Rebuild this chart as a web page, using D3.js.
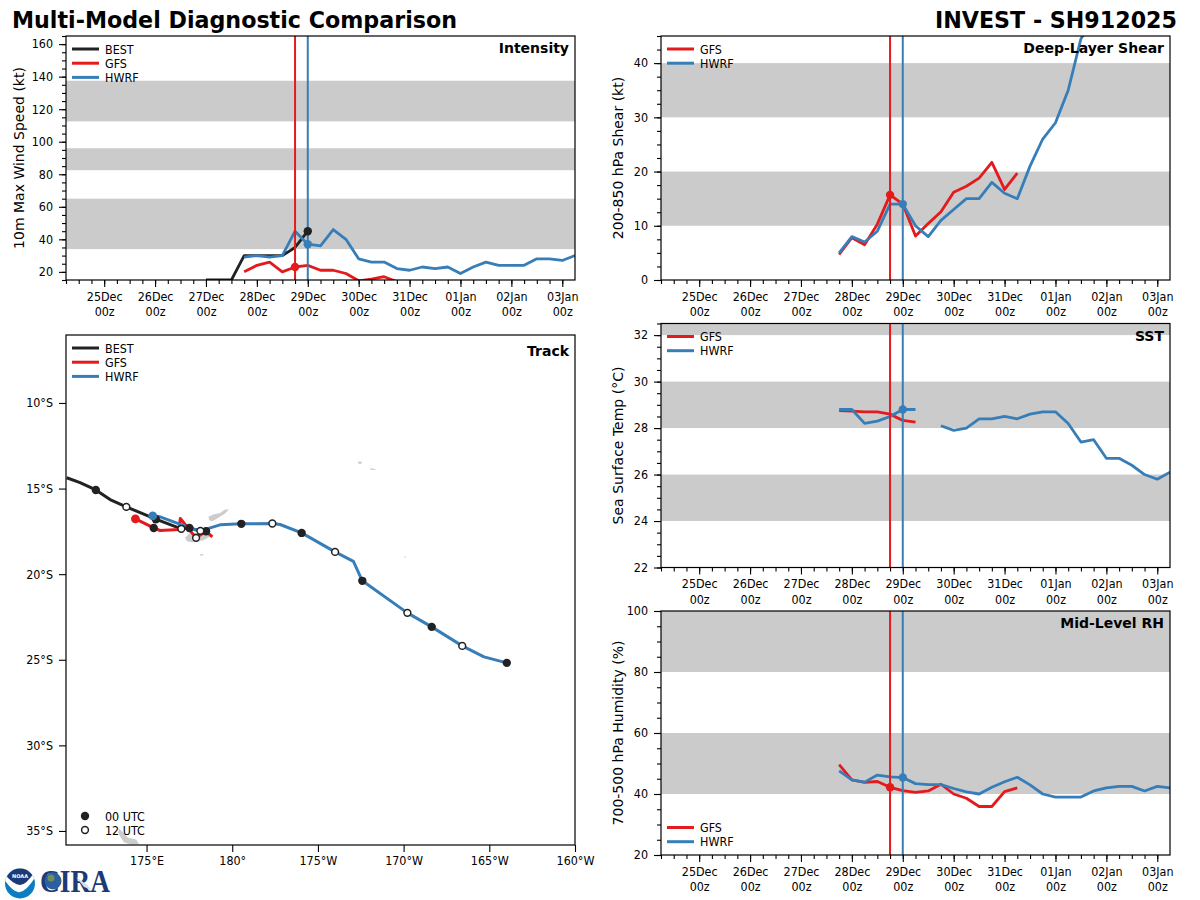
<!DOCTYPE html>
<html lang="en">
<head>
  <meta charset="UTF-8">
  <title>Multi-Model Diagnostic Comparison</title>
  <script src="https://d3js.org/d3.v7.min.js"></script>
  <style>
    html, body { margin: 0; padding: 0; background: #fff; }
    text { font-family: "DejaVu Sans", sans-serif; fill: #000; }
  </style>
</head>
<body>
  <div id="my_dataviz"></div>
  <script>
    // Every model series is one value per 6 hours from its first time
    var modelStart = new Date(Date.UTC(2025, 11, 27, 18));
    var bestStart = new Date(Date.UTC(2025, 11, 27, 0));

    var bestWind = [15, 15, 15, 30, 30, 30, 30, 35, 45];
    var gfsWind = [20, 24, 26, 20, 23, 24, 21, 21, 19, 14.5, 15.5, 17, 14];
    var hwrfWind = [29, 30, 29, 30, 45, 37, 36, 46, 40, 28, 26, 26, 22, 21, 23, 22, 23, 19, 23, 26, 24, 24, 24, 28, 28, 27, 30];

    var gfsShear = [4.7, 7.8, 6.5, 10.3, 15.7, 14, 8.1, 10.4, 12.6, 16.2, 17.3, 18.8, 21.7, 16.7, 19.7];
    var hwrfShear = [5, 8, 7, 9, 14, 14, 10, 8, 11, 13, 15, 15, 18, 16, 15, 21, 26, 29, 35, 44.5, 48];

    var gfsSst = [28.75, 28.73, 28.7, 28.7, 28.6, 28.33, 28.26];
    var hwrfSst = [28.8, 28.8, 28.2, 28.3, 28.5, 28.8, 28.8, null, 28.1, 27.9, 28.0, 28.4, 28.4, 28.5, 28.4, 28.6, 28.7, 28.7, 28.2, 27.4, 27.5, 26.7, 26.7, 26.4, 26.0, 25.8, 26.1];

    var gfsRh = [49.6, 44.6, 43.8, 44.1, 42.2, 41.1, 40.5, 41, 43.2, 40, 38.6, 35.9, 35.9, 40.8, 42];
    var hwrfRh = [47.6, 44.6, 43.9, 46.2, 45.6, 45.4, 43.4, 43.1, 43.1, 41.8, 40.7, 40, 42.2, 44, 45.5, 43, 40, 39, 39, 39, 41, 42, 42.5, 42.5, 41, 42.5, 42];

    // Track positions, degrees east (180 and beyond is the western hemisphere)
    var bestLon = [170.34, 171.12, 172.04, 172.87, 173.82, 175.54, 177.03, 177.5, 178.14, 178.47];
    var bestLat = [-14.37, -14.65, -15.08, -15.64, -16.07, -16.79, -17.35, -17.3, -17.47, -17.49];
    var bestSyn = ["", "", "00", "", "12", "00", "12", "00", "", "00"];

    var gfsLon = [174.35, 175.42, 175.79, 176.9, 176.97, 177.89, 178.47, 178.84];
    var gfsLat = [-16.77, -17.3, -17.45, -17.39, -16.75, -17.88, -17.49, -17.82];
    var gfsSyn = ["", "00", "", "", "", "12", "", ""];

    var hwrfLon = [175.36, 175.79, 177.93, 178.14, 179.29, 180.53, 182.34, 182.79, 184.05, 186.0, 187.07, 187.59, 190.22, 191.64, 193.42, 194.69, 196.02];
    var hwrfLat = [-16.59, -16.65, -17.44, -17.47, -17.12, -17.06, -17.04, -17.1, -17.59, -18.7, -19.25, -20.39, -22.26, -23.08, -24.19, -24.83, -25.18];
    var hwrfSyn = ["", "", "", "12", "", "00", "12", "", "00", "12", "", "00", "12", "00", "12", "", "00"];

    // Land outlines in the track window, [lon, lat]
    var vanuaLevu = [[178.61, -16.65], [178.9, -16.52], [179.29, -16.42], [179.58, -16.23], [179.81, -16.23], [179.58, -16.46], [179.19, -16.71], [178.84, -16.91], [178.66, -16.85]];
    var vitiLevu = [[177.25, -17.88], [177.54, -17.59], [178.02, -17.59], [178.61, -17.59], [178.7, -17.82], [178.31, -18.02], [178.02, -18.08], [177.64, -18.14], [177.35, -18.08]];
    var kadavu = [[178.1, -18.85], [178.3, -18.82], [178.32, -18.9], [178.12, -18.92]];
    var northland = [[173.4, -34.86], [173.63, -35.09], [173.92, -35.39], [174.39, -35.5], [174.55, -35.74], [174.1, -35.79], [173.69, -35.68], [173.51, -35.39], [173.33, -35.09]];
    var savaii = [[187.35, -13.42], [187.55, -13.42], [187.55, -13.55], [187.35, -13.55]];
    var upolu = [[188.05, -13.82], [188.35, -13.85], [188.35, -13.92], [188.05, -13.9]];
    var niue = [[190.05, -18.95], [190.12, -18.95], [190.12, -19.02], [190.05, -19.02]];

    var windBands = [[34, 65], [82.5, 96], [112.5, 137.5]];
    var shearBands = [[10, 20], [30, 40]];
    var sstBands = [[24, 26], [28, 30], [32, 32.5]];
    var rhBands = [[40, 60], [80, 100]];

    var windTicks = [20, 40, 60, 80, 100, 120, 140, 160];
    var shearTicks = [0, 10, 20, 30, 40];
    var sstTicks = [22, 24, 26, 28, 30, 32];
    var rhTicks = [20, 40, 60, 80, 100];
    var lonTicks = [175, 180, 185, 190, 195, 200];
    var lonLabels = ["175°E", "180°", "175°W", "170°W", "165°W", "160°W"];
    var latTicks = [-10, -15, -20, -25, -30, -35];
    var latLabels = ["10°S", "15°S", "20°S", "25°S", "30°S", "35°S"];

    var gfsInit = new Date(Date.UTC(2025, 11, 28, 18));
    var hwrfInit = new Date(Date.UTC(2025, 11, 29, 0));

    var red = "#e41a1c", blue = "#377eb8", dark = "#222222", bandGrey = "#cbcbcb", landGrey = "#cccccc";
    var xStart = new Date(Date.UTC(2025, 11, 24, 6)), xEnd = new Date(Date.UTC(2026, 0, 3, 6));

    var svg = d3.select("#my_dataviz")
      .append("svg")
        .attr("width", 1200)
        .attr("height", 900)
        .style("display", "block");

    svg.append("text").attr("x", 12).attr("y", 28)
      .style("font-size", "22.2px").style("font-weight", "bold")
      .text("Multi-Model Diagnostic Comparison");
    svg.append("text").attr("x", 1177).attr("y", 28).attr("text-anchor", "end")
      .style("font-size", "22.2px").style("font-weight", "bold")
      .text("INVEST - SH912025");

    function seriesData(start, values) {
      return values.map(function(v, i) { return {t: d3.utcHour.offset(start, i * 6), v: v}; });
    }

    // Small labels in the reference run a bit narrower than DejaVu at 12px
    function narrow(sel) {
      sel.each(function() {
        this.setAttribute("textLength", this.getComputedTextLength() * 0.93);
        this.setAttribute("lengthAdjust", "spacingAndGlyphs");
      });
    }

    function addLegend(g, items, x0, y0) {
      items.forEach(function(item, i) {
        var y = y0 + i * 14.2;
        g.append("line").attr("x1", x0).attr("x2", x0 + 27).attr("y1", y).attr("y2", y)
          .attr("stroke", item.color).attr("stroke-width", 3);
        g.append("text").attr("x", x0 + 33).attr("y", y + 4.5).style("font-size", "12px").text(item.name).call(narrow);
      });
    }

    // One time-series panel
    function timePanel(opt) {
      var width = 509, height = 244;
      var g = svg.append("g").attr("transform", "translate(" + opt.left + "," + opt.top + ")");
      var clipId = "clip" + opt.id;
      g.append("clipPath").attr("id", clipId).append("rect").attr("width", width).attr("height", height);

      var x = d3.scaleUtc().domain([xStart, xEnd]).range([0, width]);
      var y = d3.scaleLinear().domain(opt.domain).range([height, 0]);

      var plot = g.append("g").attr("clip-path", "url(#" + clipId + ")");
      plot.selectAll("rect.band").data(opt.bands).enter().append("rect")
        .attr("class", "band")
        .attr("x", 0).attr("width", width)
        .attr("y", function(d) { return y(d[1]); })
        .attr("height", function(d) { return y(d[0]) - y(d[1]); })
        .attr("fill", bandGrey);

      var line = d3.line()
        .defined(function(d) { return d.v !== null; })
        .x(function(d) { return x(d.t); })
        .y(function(d) { return y(d.v); });

      opt.series.forEach(function(s) {
        plot.append("path").datum(seriesData(s.start, s.values))
          .attr("d", line).attr("fill", "none")
          .attr("stroke", s.color).attr("stroke-width", 2.8).attr("stroke-linejoin", "round");
      });

      [[gfsInit, red], [hwrfInit, blue]].forEach(function(v) {
        plot.append("line").attr("x1", x(v[0])).attr("x2", x(v[0])).attr("y1", 0).attr("y2", height)
          .attr("stroke", v[1]).attr("stroke-width", 2);
      });

      opt.series.forEach(function(s) {
        if (!s.mark) return;
        var d = seriesData(s.start, s.values).filter(function(p) { return +p.t === +s.mark; })[0];
        plot.append("circle").attr("cx", x(d.t)).attr("cy", y(d.v)).attr("r", 4.2).attr("fill", s.color);
      });

      // Axes
      var xAxis = g.append("g").attr("transform", "translate(0," + height + ")")
        .call(d3.axisBottom(x).tickValues(d3.utcDay.range(d3.utcDay.ceil(xStart), xEnd)).tickSize(7).tickPadding(5));
      xAxis.selectAll(".tick text").each(function(d) {
        var t = d3.select(this).text(null).style("font-size", "12px");
        t.append("tspan").attr("x", 0).attr("dy", "0.71em").text(d3.utcFormat("%d%b")(d));
        t.append("tspan").attr("x", 0).attr("dy", "15.5px").text(d3.utcFormat("%Hz")(d));
        t.selectAll("tspan").call(narrow);
      });
      g.append("g").attr("transform", "translate(0," + height + ")")
        .call(d3.axisBottom(x).tickValues(d3.utcHour.range(xStart, xEnd, 6)).tickSize(4).tickFormat(""));
      g.append("g")
        .call(d3.axisLeft(y).tickValues(opt.ticks).tickSize(7).tickPadding(6).tickFormat(d3.format("d")))
        .selectAll("text").style("font-size", "12px").call(narrow);
      g.append("g")
        .call(d3.axisLeft(y).tickValues(d3.range(opt.domain[0], opt.domain[1] + 1e-6, opt.minor)).tickSize(4).tickFormat(""));
      g.selectAll(".domain").remove();
      g.selectAll(".tick line").attr("stroke", "#000").attr("stroke-width", 1.1);

      g.append("rect").attr("width", width).attr("height", height)
        .attr("fill", "none").attr("stroke", "#000").attr("stroke-width", 1.2);

      g.append("text").attr("x", width - 6).attr("y", 17).attr("text-anchor", "end")
        .style("font-size", "14px").style("font-weight", "bold").text(opt.title);
      g.append("text")
        .attr("transform", "translate(" + opt.labelX + "," + height / 2 + ") rotate(-90)")
        .attr("text-anchor", "middle").style("font-size", "14px").text(opt.label);

      addLegend(g, opt.series, 6, opt.legendY);
    }

    var gfs = {name: "GFS", color: red}, hwrf = {name: "HWRF", color: blue}, best = {name: "BEST", color: dark};

    timePanel({
      id: 1, left: 66, top: 36, domain: [15, 165], bands: windBands, ticks: windTicks, minor: 5,
      title: "Intensity", label: "10m Max Wind Speed (kt)", labelX: -42, legendY: 13,
      series: [
        Object.assign({}, best, {values: bestWind, start: bestStart, mark: hwrfInit}),
        Object.assign({}, gfs, {values: gfsWind, start: modelStart, mark: gfsInit}),
        Object.assign({}, hwrf, {values: hwrfWind, start: modelStart, mark: hwrfInit})
      ]
    });
    timePanel({
      id: 2, left: 661, top: 36, domain: [0, 45], bands: shearBands, ticks: shearTicks, minor: 2.5,
      title: "Deep-Layer Shear", label: "200-850 hPa Shear (kt)", labelX: -38, legendY: 13,
      series: [
        Object.assign({}, gfs, {values: gfsShear, start: modelStart, mark: gfsInit}),
        Object.assign({}, hwrf, {values: hwrfShear, start: modelStart, mark: hwrfInit})
      ]
    });
    timePanel({
      id: 3, left: 661, top: 323.5, domain: [22, 32.5], bands: sstBands, ticks: sstTicks, minor: 0.5,
      title: "SST", label: "Sea Surface Temp (°C)", labelX: -38, legendY: 13,
      series: [
        Object.assign({}, gfs, {values: gfsSst, start: modelStart}),
        Object.assign({}, hwrf, {values: hwrfSst, start: modelStart, mark: hwrfInit})
      ]
    });
    timePanel({
      id: 4, left: 661, top: 611, domain: [20, 100], bands: rhBands, ticks: rhTicks, minor: 5,
      title: "Mid-Level RH", label: "700-500 hPa Humidity (%)", labelX: -38, legendY: 216.5,
      series: [
        Object.assign({}, gfs, {values: gfsRh, start: modelStart, mark: gfsInit}),
        Object.assign({}, hwrf, {values: hwrfRh, start: modelStart, mark: hwrfInit})
      ]
    });

    // Track map
    (function() {
      var width = 509, height = 510;
      var g = svg.append("g").attr("transform", "translate(66,335)");
      g.append("clipPath").attr("id", "clipTrack").append("rect").attr("width", width).attr("height", height);

      var x = d3.scaleLinear().domain([170.3, 200]).range([0, width]);
      var y = d3.scaleLinear().domain([-6.03, -35.82]).range([0, height]);
      var plot = g.append("g").attr("clip-path", "url(#clipTrack)");

      var landPath = d3.line().x(function(d) { return x(d[0]); }).y(function(d) { return y(d[1]); }).curve(d3.curveLinearClosed);
      plot.selectAll("path.land").data([vanuaLevu, vitiLevu, kadavu, northland, savaii, upolu, niue]).enter().append("path")
        .attr("class", "land").attr("d", landPath).attr("fill", landGrey);

      var tracks = [
        {lon: bestLon, lat: bestLat, syn: bestSyn, color: dark},
        {lon: gfsLon, lat: gfsLat, syn: gfsSyn, color: red},
        {lon: hwrfLon, lat: hwrfLat, syn: hwrfSyn, color: blue}
      ];
      var trackLine = d3.line().x(function(d) { return x(d.lon); }).y(function(d) { return y(d.lat); });
      tracks.forEach(function(t) {
        t.points = t.lon.map(function(lon, i) { return {lon: lon, lat: t.lat[i], syn: t.syn[i]}; });
        plot.append("path").datum(t.points).attr("d", trackLine)
          .attr("fill", "none").attr("stroke", t.color).attr("stroke-width", 3).attr("stroke-linejoin", "round");
      });
      tracks.forEach(function(t) {
        plot.selectAll(null).data(t.points.filter(function(p) { return p.syn === "00"; })).enter().append("circle")
          .attr("cx", function(d) { return x(d.lon); }).attr("cy", function(d) { return y(d.lat); })
          .attr("r", 4.2).attr("fill", dark);
      });
      tracks.forEach(function(t) {
        plot.selectAll(null).data(t.points.filter(function(p) { return p.syn === "12"; })).enter().append("circle")
          .attr("cx", function(d) { return x(d.lon); }).attr("cy", function(d) { return y(d.lat); })
          .attr("r", 3.4).attr("fill", "#fff").attr("stroke", dark).attr("stroke-width", 1.5);
      });
      // Initial positions of the two models
      [tracks[1], tracks[2]].forEach(function(t) {
        plot.append("circle").attr("cx", x(t.lon[0])).attr("cy", y(t.lat[0])).attr("r", 4.4).attr("fill", t.color);
      });

      g.append("g").attr("transform", "translate(0," + height + ")")
        .call(d3.axisBottom(x).tickValues(lonTicks).tickSize(7).tickPadding(4)
          .tickFormat(function(d, i) { return lonLabels[i]; }))
        .selectAll("text").style("font-size", "12px").call(narrow);
      g.append("g")
        .call(d3.axisLeft(y).tickValues(latTicks).tickSize(7).tickPadding(6)
          .tickFormat(function(d, i) { return latLabels[i]; }))
        .selectAll("text").style("font-size", "12px").call(narrow);
      g.selectAll(".domain").remove();
      g.selectAll(".tick line").attr("stroke", "#000").attr("stroke-width", 1.1);

      g.append("rect").attr("width", width).attr("height", height)
        .attr("fill", "none").attr("stroke", "#000").attr("stroke-width", 1.2);

      g.append("text").attr("x", width - 6).attr("y", 21).attr("text-anchor", "end")
        .style("font-size", "14px").style("font-weight", "bold").text("Track");
      addLegend(g, [best, gfs, hwrf], 6, 13);

      g.append("circle").attr("cx", 19).attr("cy", 481).attr("r", 4.2).attr("fill", dark);
      g.append("circle").attr("cx", 19).attr("cy", 495).attr("r", 3.4).attr("fill", "#fff").attr("stroke", dark).attr("stroke-width", 1.5);
      g.append("text").attr("x", 39).attr("y", 485.5).style("font-size", "12px").text("00 UTC").call(narrow);
      g.append("text").attr("x", 39).attr("y", 499.5).style("font-size", "12px").text("12 UTC").call(narrow);
    })();

    // NOAA and CIRA logos
    (function() {
      var logo = svg.append("g");
      logo.append("clipPath").attr("id", "noaaClip").append("circle").attr("cx", 20).attr("cy", 883.5).attr("r", 15);
      var disc = logo.append("g").attr("clip-path", "url(#noaaClip)");
      disc.append("rect").attr("x", 5).attr("y", 868).attr("width", 30).attr("height", 31).attr("fill", "#0b7dc1");
      disc.append("path").attr("d", "M3,878 Q14,894 20,892 Q28,890 37,874 L37,866 L3,866 Z").attr("fill", "#fff");
      disc.append("path").attr("d", "M3,872 Q13,885 20,885 Q27,885 37,868 L37,866 L3,866 Z").attr("fill", "#1c3a78");
      logo.append("text").attr("x", 20).attr("y", 878).attr("text-anchor", "middle")
        .style("font-size", "5px").style("font-weight", "bold").style("fill", "#fff").text("NOAA");

      logo.append("text").attr("x", 40).attr("y", 892).attr("textLength", 70).attr("lengthAdjust", "spacingAndGlyphs")
        .style("font-size", "32px").style("font-weight", "bold").style("font-family", "'Liberation Serif', serif").style("fill", "#1c3a78").text("CIRA");
      logo.append("circle").attr("cx", 53).attr("cy", 881).attr("r", 8.5).attr("fill", "#2b5f9e");
      logo.append("circle").attr("cx", 51).attr("cy", 878).attr("r", 3.5).attr("fill", "#6f8f5a");
      logo.append("path").attr("d", "M76,877 L86,884 L92,890 L84,887 Z").attr("fill", "#cfe0ee");
    })();
  </script>
</body>
</html>
